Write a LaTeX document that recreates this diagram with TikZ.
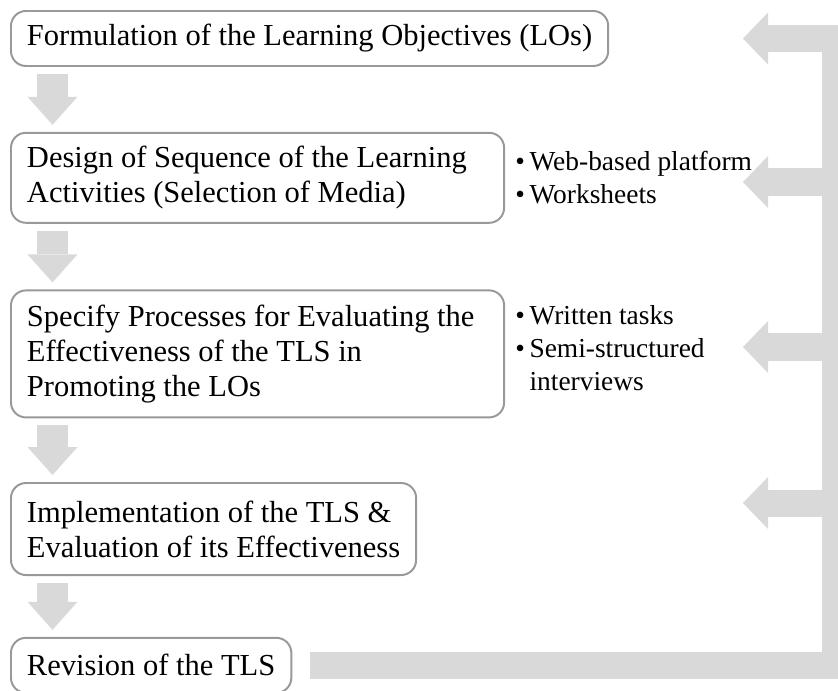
\documentclass[tikz,border=0pt]{standalone}
\usepackage{fontspec}
\setmainfont{Liberation Serif}
\usetikzlibrary{arrows.meta, positioning}

\begin{document}
\begin{tikzpicture}[
  x=0.025cm, y=-0.025cm,
  stage/.style={draw=black!40, line width=1.4pt, rounded corners=3.75mm, fill=white, align=flush left, inner xsep=4mm, inner ysep=1mm, font=\fontsize{21.7pt}{24.9pt}\selectfont},
  notes/.style={align=flush left, inner sep=0pt, font=\fontsize{19.5pt}{23.5pt}\selectfont},
  down/.style={draw=black!15, line width=7.5mm, -{Triangle[length=7mm, width=12.5mm, line width=0pt]}, shorten <=1.75mm, shorten >=1.75mm},
  feedback/.style={draw=black!15, line width=6.75mm, -{Triangle[length=6.25mm, width=13mm, line width=0pt]}}
]
  \path[use as bounding box] (0,0) rectangle (838,691);

  % stages of the design cycle
  \node[stage, minimum height=1.375cm, anchor=north west] (f1) at (10,10) {Formulation of the Learning Objectives (LOs)};
  \node[stage, text width=11.525cm, minimum height=2.25cm, below=1.62cm of f1.south west, anchor=north west] (f2) {Design of Sequence of the Learning\\Activities (Selection of Media)};
  \node[stage, text width=11.525cm, minimum height=3.175cm, below=1.64cm of f2.south west, anchor=north west] (f3) {Specify Processes for Evaluating the\\Effectiveness of the TLS in\\Promoting the LOs};
  \node[stage, minimum height=2.3cm, below=1.59cm of f3.south west, anchor=north west] (f4) {Implementation of the TLS \&\\Evaluation of its Effectiveness};
  \node[stage, minimum height=1.375cm, below=1.52cm of f4.south west, anchor=north west] (f5) {Revision of the TLS};

  % tools next to the stages
  \node[notes, right=2.5mm of f2.east] (l2) {•\,Web-based platform\\•\,Worksheets};
  \node[notes, right=2.5mm of f3.east, yshift=1.5mm] (l3) {•\,Written tasks\\•\,Semi-structured\\\phantom{•\,}interviews};

  % downward flow
  \coordinate (spine) at (52.5,0);
  \draw[down] (f1.south -| spine) -- (f2.north -| spine);
  \draw[down] (f2.south -| spine) -- (f3.north -| spine);
  \draw[down] (f3.south -| spine) -- (f4.north -| spine);
  \draw[down] (f4.south -| spine) -- (f5.north -| spine);

  % revision loop back up the right side
  \coordinate (loopx) at (835.5,0);
  \coordinate (tipx) at (743,0);
  \coordinate (in2) at (743,182);
  \coordinate (in3) at (743,347);
  \coordinate (in4) at (743,503);
  \draw[feedback, shorten <=4.5mm] (f5.east) -- (f5.east -| loopx) -- (f1.east -| loopx) -- (f1.east -| tipx);
  \foreach \c in {in2,in3,in4}
    \draw[feedback] (\c -| loopx) -- (\c);
\end{tikzpicture}
\end{document}
